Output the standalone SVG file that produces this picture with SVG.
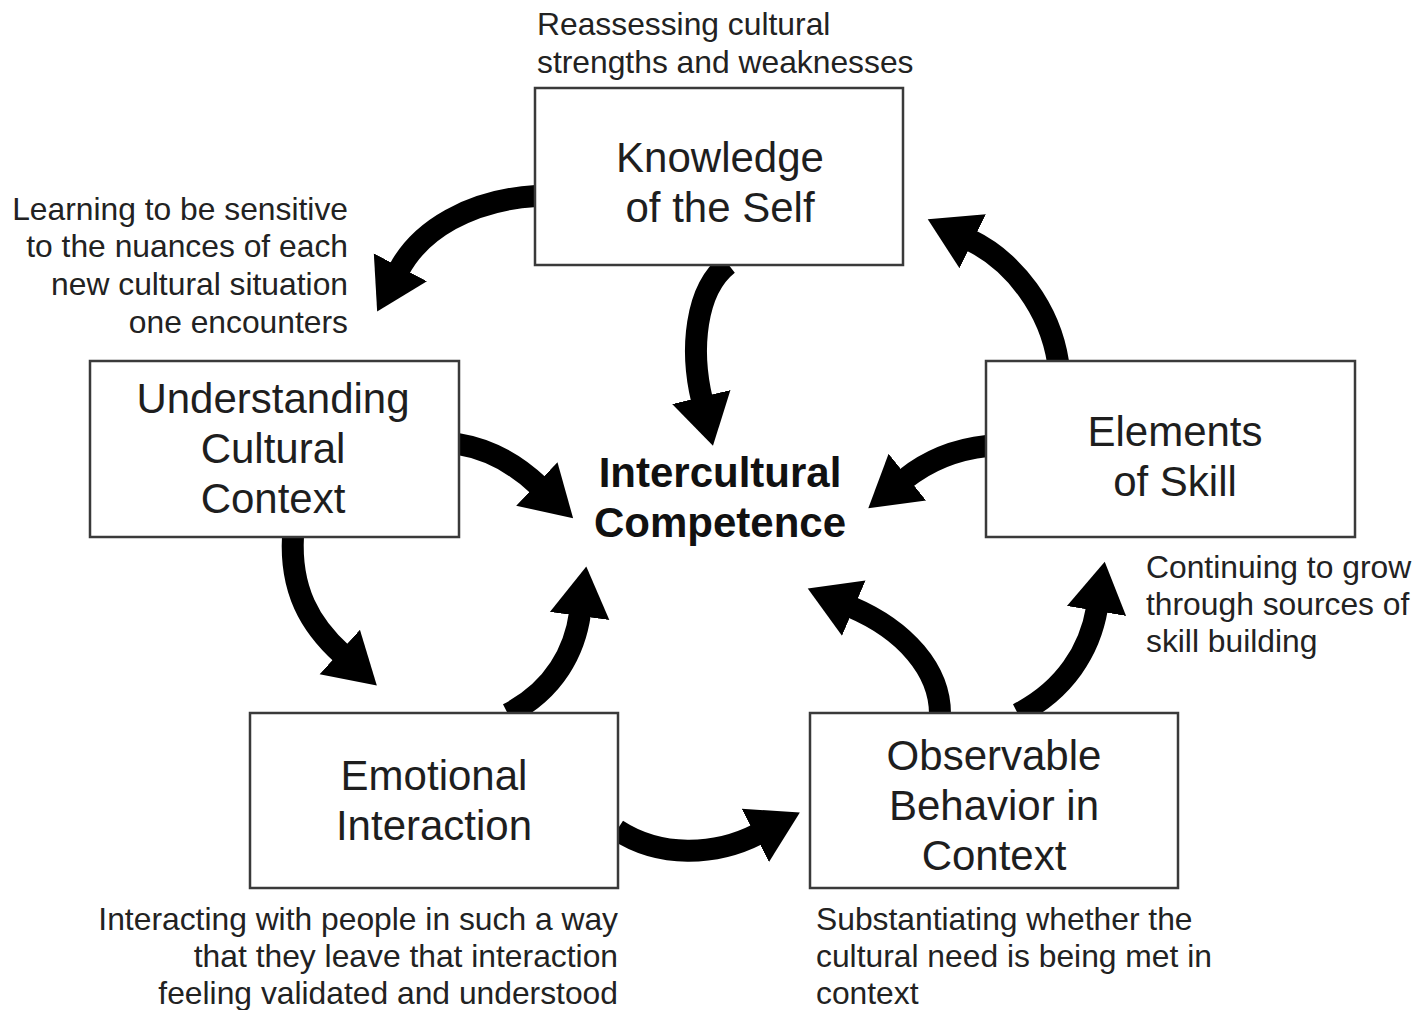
<svg xmlns="http://www.w3.org/2000/svg" width="1416" height="1010" viewBox="0 0 1416 1010">
  <style>
    .box { fill: #ffffff; stroke: #3a3a3a; stroke-width: 2.5; }
    .node { font-family: "Liberation Sans", Arial, sans-serif; font-size: 42px; fill: #1e1e1e; text-anchor: middle; }
    .core { font-family: "Liberation Sans", Arial, sans-serif; font-size: 42px; font-weight: bold; fill: #111111; text-anchor: middle; }
    .note { font-family: "Liberation Sans", Arial, sans-serif; font-size: 31.8px; fill: #222222; }
    .flow { fill: none; stroke: #000000; stroke-width: 22; stroke-linecap: butt; marker-end: url(#head); }
  </style>
  <defs>
    <marker id="head" markerUnits="userSpaceOnUse" markerWidth="54" markerHeight="66" viewBox="0 -33 54 66" refX="3" refY="0" orient="auto">
      <path d="M0,-30 L50,0 L0,30 z" fill="#000000"/>
    </marker>
  </defs>

  <rect width="1416" height="1010" fill="#ffffff"/>

  <!-- connectors -->
  <g id="connectors">
    <path class="flow" d="M536,196 C470,200 420,230 399,270"/>
    <path class="flow" d="M728,264 C695,290 690,350 702,400"/>
    <path class="flow" d="M458,444 C495,450 520,468 539,486"/>
    <path class="flow" d="M987,446 C950,450 925,463 905,479"/>
    <path class="flow" d="M293,536 C290,590 310,625 342,654"/>
    <path class="flow" d="M508,714 C555,690 575,650 580,613"/>
    <path class="flow" d="M617,830 C660,858 715,856 758,834"/>
    <path class="flow" d="M940,714 C940,670 905,630 851,607"/>
    <path class="flow" d="M1018,714 C1065,690 1090,650 1097,608"/>
    <path class="flow" d="M1058,362 C1050,310 1015,262 970,240"/>
  </g>

  <!-- central concept -->
  <g id="center">
    <text class="core" x="720" y="487">Intercultural</text>
    <text class="core" x="720" y="537">Competence</text>
  </g>

  <g id="knowledge-self">
    <rect class="box" x="535" y="88" width="368" height="177"/>
    <text class="node" x="720" y="172">Knowledge</text>
    <text class="node" x="720" y="222">of the Self</text>
  </g>

  <g id="understanding-context">
    <rect class="box" x="90" y="361" width="369" height="176"/>
    <text class="node" x="273" y="413">Understanding</text>
    <text class="node" x="273" y="463">Cultural</text>
    <text class="node" x="273" y="513">Context</text>
  </g>

  <g id="elements-skill">
    <rect class="box" x="986" y="361" width="369" height="176"/>
    <text class="node" x="1175" y="446">Elements</text>
    <text class="node" x="1175" y="496">of Skill</text>
  </g>

  <g id="emotional-interaction">
    <rect class="box" x="250" y="713" width="368" height="175"/>
    <text class="node" x="434" y="790">Emotional</text>
    <text class="node" x="434" y="840">Interaction</text>
  </g>

  <g id="observable-behavior">
    <rect class="box" x="810" y="713" width="368" height="175"/>
    <text class="node" x="994" y="770">Observable</text>
    <text class="node" x="994" y="820">Behavior in</text>
    <text class="node" x="994" y="870">Context</text>
  </g>

  <!-- descriptive notes -->
  <g id="note-knowledge">
    <text class="note" x="537" y="35">Reassessing cultural</text>
    <text class="note" x="537" y="73">strengths and weaknesses</text>
  </g>
  <g id="note-understanding" text-anchor="end">
    <text class="note" x="348" y="220">Learning to be sensitive</text>
    <text class="note" x="348" y="257">to the nuances of each</text>
    <text class="note" x="348" y="295">new cultural situation</text>
    <text class="note" x="348" y="333">one encounters</text>
  </g>
  <g id="note-skill">
    <text class="note" x="1146" y="578">Continuing to grow</text>
    <text class="note" x="1146" y="615">through sources of</text>
    <text class="note" x="1146" y="652">skill building</text>
  </g>
  <g id="note-emotional" text-anchor="end">
    <text class="note" x="618" y="930">Interacting with people in such a way</text>
    <text class="note" x="618" y="967">that they leave that interaction</text>
    <text class="note" x="618" y="1004">feeling validated and understood</text>
  </g>
  <g id="note-behavior">
    <text class="note" x="816" y="930">Substantiating whether the</text>
    <text class="note" x="816" y="967">cultural need is being met in</text>
    <text class="note" x="816" y="1004">context</text>
  </g>
</svg>
